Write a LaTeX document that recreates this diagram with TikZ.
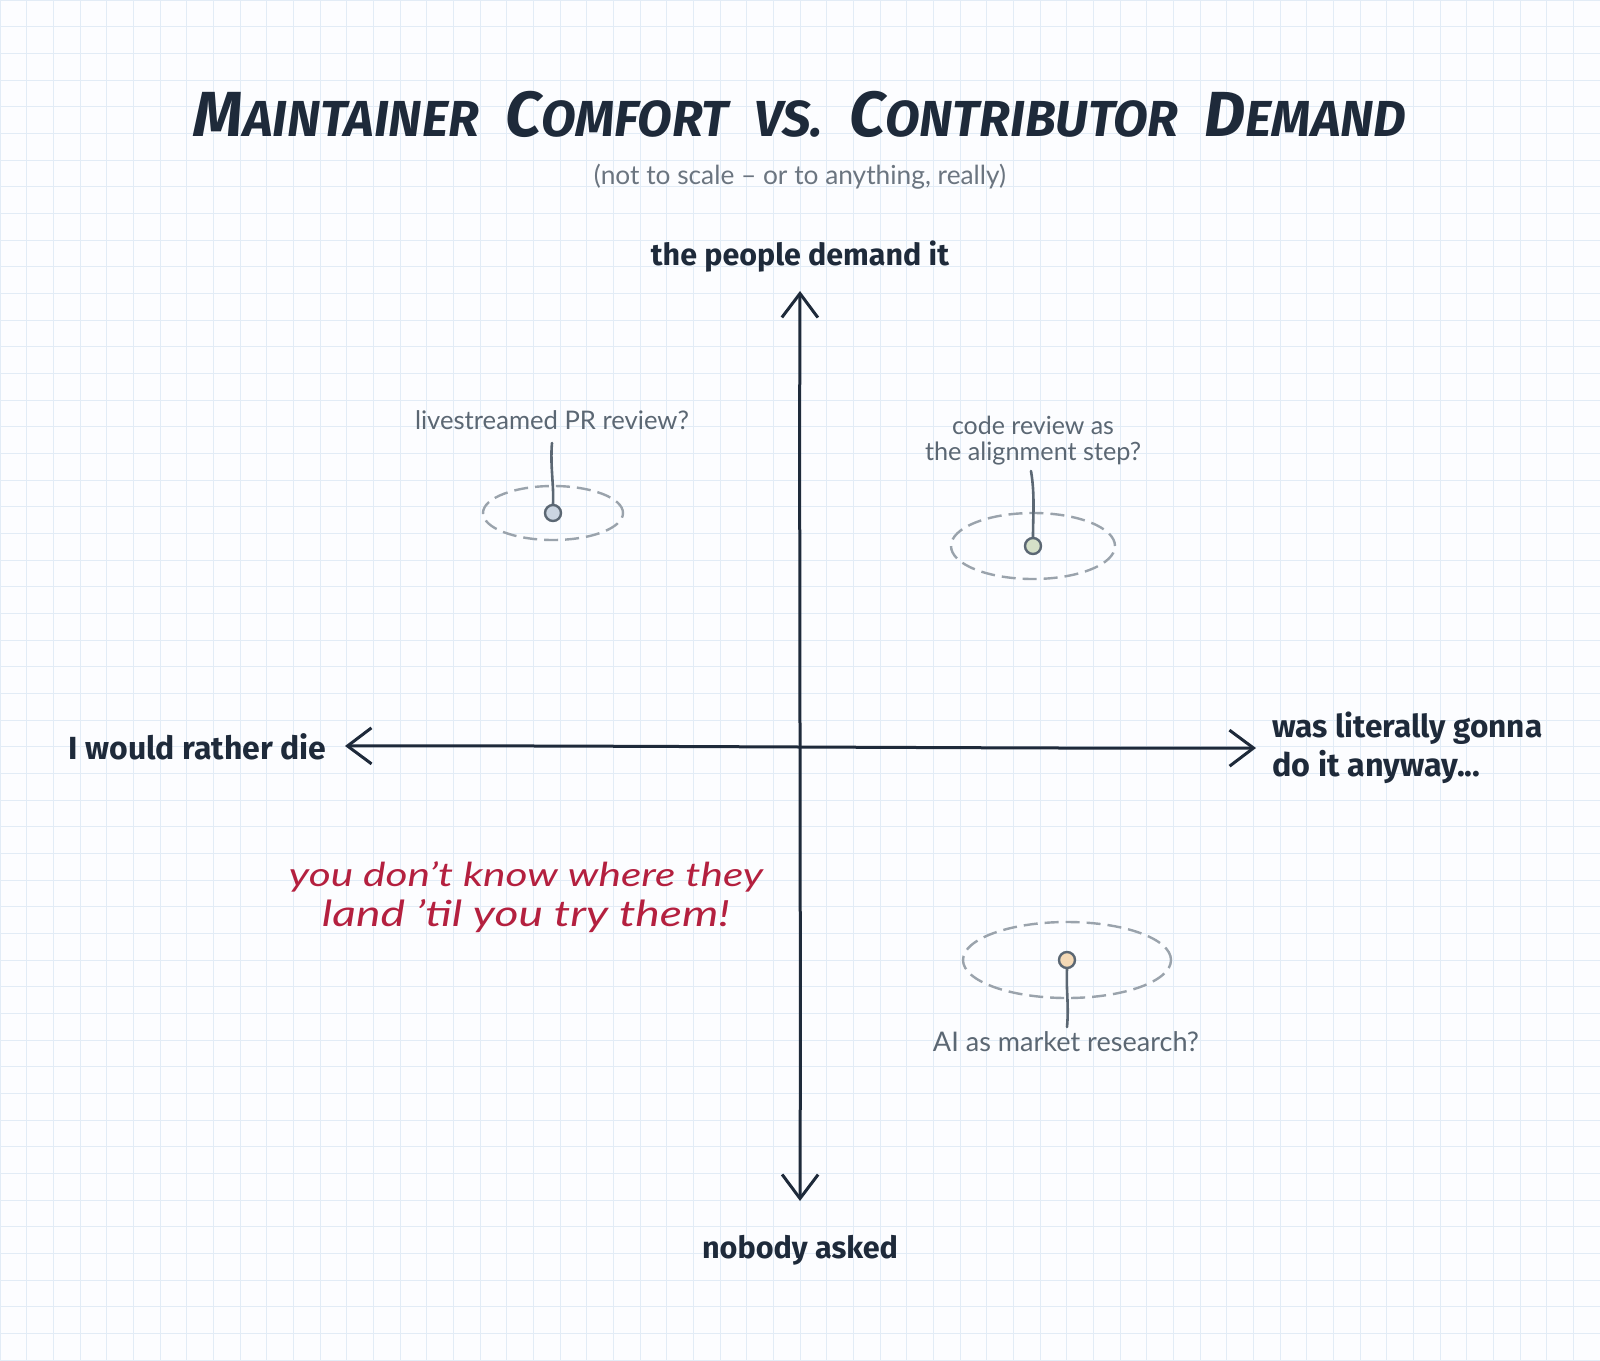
\documentclass[tikz,border=0pt]{standalone}
\usepackage{fontspec}
\usetikzlibrary{arrows.meta,shapes.geometric}
\setmainfont{Lato}
\newfontfamily\axisfont{Fira Sans}
\newfontfamily\ttlfont{Fira Sans}
\definecolor{ink}{HTML}{1E2A3A}
\definecolor{note}{HTML}{5B6773}
\definecolor{sub}{HTML}{6B7580}
\definecolor{redink}{HTML}{B4203F}
\definecolor{gridc}{HTML}{E2ECF6}
\definecolor{bgc}{HTML}{FCFDFF}
\definecolor{ringc}{HTML}{9AA3AC}
\definecolor{dotA}{HTML}{CBD5E1}
\definecolor{dotB}{HTML}{D5E0C8}
\definecolor{dotC}{HTML}{F4D9B6}
\newcommand{\fitw}[2]{\resizebox{#1}{!}{#2}}
\newcommand{\fitsq}[2]{\scalebox{1}[0.78]{\resizebox{#1}{!}{#2}}}
\newcommand{\bigc}[1]{{\fontsize{34}{34}\selectfont #1}}
\newcommand{\smc}[1]{{\fontsize{27}{27}\selectfont #1}}
\newcommand{\tsp}{\hspace{14pt}}
\begin{document}
\begin{tikzpicture}[x=0.5pt,y=-0.5pt,
  gridline/.style={draw=gridc,line width=0.5pt},
  axis/.style={draw=ink,line width=1.5pt,line cap=round,
    {Straight Barb[length=12pt,width=18pt,line width=1.5pt]}-{Straight Barb[length=12pt,width=18pt,line width=1.5pt]}},
  axislabel/.style={text=ink,inner sep=0pt,font=\axisfont\bfseries},
  notelabel/.style={text=note,inner sep=0pt},
  ring/.style={ellipse,draw=ringc,line width=1.2pt,dash pattern=on 7pt off 3.5pt,inner sep=0pt},
  dot/.style={circle,draw=note,line width=1.2pt,minimum size=8pt,inner sep=0pt},
  leader/.style={draw=note,line width=1.3pt,line cap=round},
  redtext/.style={text=redink,inner sep=0pt,font=\itshape}]
\fill[bgc] (0,0) rectangle (1600,1360);
\useasboundingbox (0,0) rectangle (1600,1360);
\foreach \i in {0,...,60} \draw[gridline] (\i*26.667,0) -- (\i*26.667,1360);
\foreach \j in {0,...,51} \draw[gridline] (0,\j*26.667) -- (1600,\j*26.667);

% title
\node[text=ink,inner sep=0pt] (title) at (800,114) {\fitw{606pt}{\ttlfont\bfseries\itshape
  \bigc{M}\smc{AINTAINER}\tsp\bigc{C}\smc{OMFORT}\tsp\smc{VS.}\tsp\bigc{C}\smc{ONTRIBUTOR}\tsp\bigc{D}\smc{EMAND}}};
\node[text=sub,inner sep=0pt] (subtitle) at (800,177) {\fitw{206pt}{(not to scale -- or to anything, really)}};

% axes
\coordinate (top) at (800,291);
\coordinate (bot) at (800,1201);
\coordinate (lft) at (345,746);
\coordinate (rgt) at (1256,748);
\coordinate (ctr) at (800,747);
\draw[axis] (bot) .. controls (801,950) and (799,500) .. (top);
\draw[axis] (lft) .. controls (550,745) and (1050,749) .. (rgt);

\node[axislabel] (ylab) at (800,257) {\fitw{149pt}{the people demand it}};
\node[axislabel] (nlab) at (800,1250) {\fitw{98pt}{nobody asked}};
\node[axislabel,anchor=east] (llab) at (327,747) {\fitw{129pt}{I would rather die}};
\node[axislabel,anchor=west] (rlab1) at (1272,728) {\fitw{135pt}{was literally gonna}};
\node[axislabel,anchor=west] (rlab2) at (1272,767) {\fitw{104pt}{do it anyway...}};

% red note
\node[redtext] (red1) at (526,877) {\fitsq{237pt}{you don't know where they}};
\node[redtext] (red2) at (526,916) {\fitsq{204pt}{land 'til you try them!}};

% point 1
\node[ring,minimum width=70pt,minimum height=27pt] (e1) at (553,513) {};
\node[dot,fill=dotA] (d1) at (553,513) {};
\node[notelabel] (t1) at (552,420) {\fitw{137pt}{livestreamed PR review?}};
\coordinate (c1) at (552,443);
\draw[leader] (d1.north) .. controls (554,485) and (550,465) .. (c1);

% point 2
\node[ring,minimum width=82pt,minimum height=33pt] (e2) at (1033,546) {};
\node[dot,fill=dotB] (d2) at (1033,546) {};
\node[notelabel] (t2a) at (1033,425) {\fitw{81pt}{code review as}};
\node[notelabel] (t2b) at (1033,454) {\fitw{108pt}{the alignment step?}};
\coordinate (c2) at (1031,471);
\draw[leader] (d2.north) .. controls (1033,515) and (1035,495) .. (c2);

% point 3
\node[ring,minimum width=104pt,minimum height=38pt] (e3) at (1067,960) {};
\node[dot,fill=dotC] (d3) at (1067,960) {};
\node[notelabel] (t3) at (1066,1042) {\fitw{133pt}{AI as market research?}};
\coordinate (c3) at (1067,1027);
\draw[leader] (d3.south) .. controls (1066,990) and (1069,1005) .. (c3);
\end{tikzpicture}
\end{document}
